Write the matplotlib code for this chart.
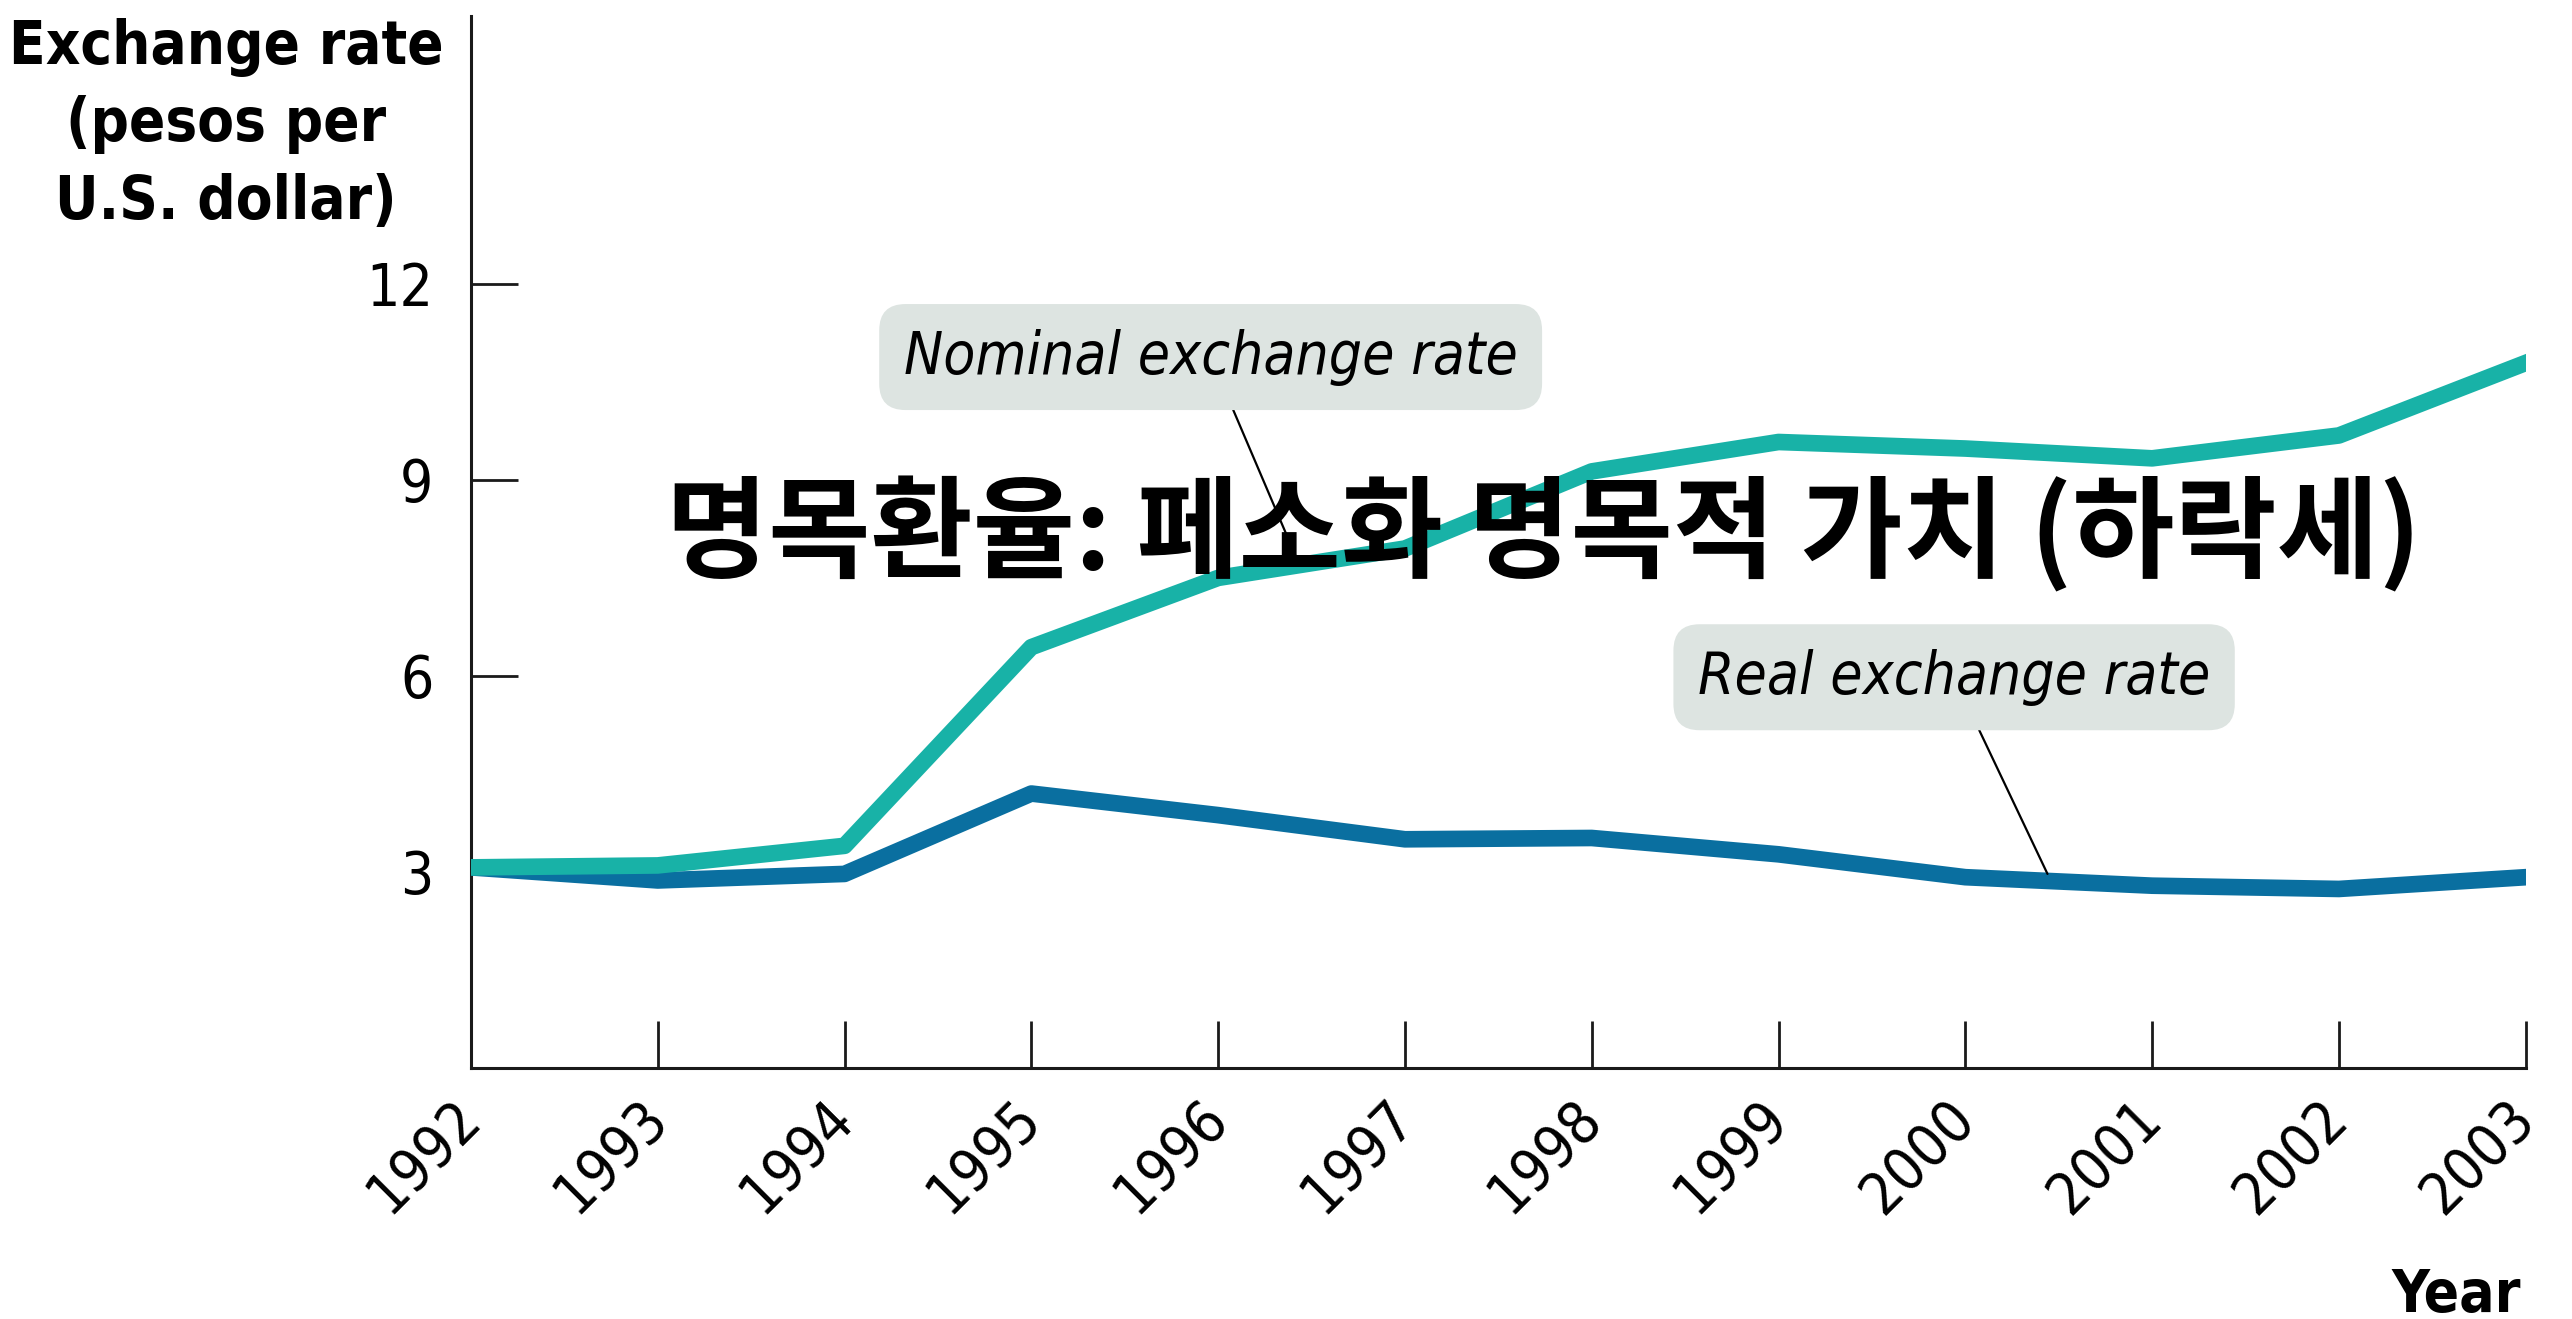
import matplotlib
matplotlib.use('Agg')
from matplotlib import pyplot as plt

years = [1992, 1993, 1994, 1995, 1996, 1997, 1998, 1999, 2000, 2001, 2002, 2003]
nominal_rate = [3.07, 3.10, 3.40, 6.44, 7.50, 7.95, 9.13, 9.58, 9.48, 9.33, 9.68, 10.79]
real_rate = [3.07, 2.87, 2.97, 4.20, 3.87, 3.50, 3.52, 3.27, 2.92, 2.79, 2.74, 2.92]
y_ticks = [3, 6, 9, 12]
title_ko = '명목환율: 페소화 명목적 가치 (하락세)'

# condensed DejaVu is the closest to the narrow font of the original
COND = dict(family='DejaVu Sans', stretch='condensed')
teal = '#18b2a7'
blue = '#0a6fa0'
box_grey = '#dde4e1'
ink = '#1a1a1a'

fig = plt.figure(figsize=(25.72, 13.19), dpi=100)
ax = fig.add_axes([0.1831, 0.1903, 0.982 - 0.1831, 0.9879 - 0.1903])

ax.plot(years, real_rate, color=blue, lw=12, solid_joinstyle='round', zorder=3)
ax.plot(years, nominal_rate, color=teal, lw=12, solid_joinstyle='round', zorder=4)

ax.set_xlim(1992, 2003)
ax.set_ylim(0, 16.1)
ax.set_xticks(years)
ax.set_xticklabels([str(y) for y in years], rotation=45, ha='right', va='center',
                   rotation_mode='anchor', fontsize=42, **COND)
ax.set_yticks(y_ticks)
ax.set_yticklabels([str(v) for v in y_ticks], fontsize=42, **COND)

for side in ['top', 'right']:
    ax.spines[side].set_visible(False)
for side in ['left', 'bottom']:
    ax.spines[side].set_linewidth(2.2)
    ax.spines[side].set_color(ink)

ax.tick_params(axis='y', direction='in', length=34, width=2, pad=27, color=ink)
ax.tick_params(axis='x', direction='in', length=34, width=2, pad=30, color=ink)

# callout labels with leader lines
box = dict(boxstyle='round,pad=0.42,rounding_size=0.45', fc=box_grey, ec='none')
leader = dict(arrowstyle='-', color='black', lw=1.6, shrinkA=0, shrinkB=0)
ax.annotate('Nominal exchange rate', xy=(1996.42, 7.8), xytext=(1995.96, 10.88),
            fontsize=42, style='italic', ha='center', va='center',
            bbox=box, arrowprops=leader, zorder=5, **COND)
ax.annotate('Real exchange rate', xy=(2000.44, 2.97), xytext=(1999.94, 5.98),
            fontsize=42, style='italic', ha='center', va='center',
            bbox=box, arrowprops=leader, zorder=5, **COND)

ax.text(1997.74, 8.15, title_ko, fontsize=80, fontweight='bold',
        family=['Noto Sans CJK KR', 'DejaVu Sans'], ha='center', va='center', zorder=6)

fig.text(226 / 2572, 1 - 18 / 1319, 'Exchange rate\n(pesos per\nU.S. dollar)',
         fontsize=43, fontweight='bold', ha='center', va='top',
         linespacing=1.4, **COND)
fig.text(2521 / 2572, 1 - 1312 / 1319, 'Year', fontsize=42, fontweight='bold',
         ha='right', va='baseline', **COND)

fig.savefig('out.png', dpi=100)
